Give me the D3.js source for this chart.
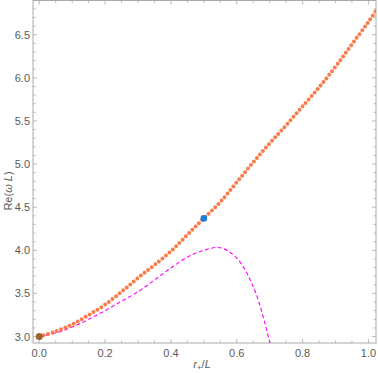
<!DOCTYPE html>
<html>
<head>
<meta charset="utf-8">
<script src="https://cdn.jsdelivr.net/npm/d3@7"></script>
<style>
body { margin: 0; background: #fff; }
text { font-family: "Liberation Sans", Arial, sans-serif; }
</style>
</head>
<body>
<svg id="chart" width="378" height="373"></svg>
<script>
// data
var rx = [0, 0.05, 0.1, 0.15, 0.2, 0.25, 0.3, 0.35, 0.4, 0.45, 0.5, 0.55, 0.6, 0.65, 0.7, 0.75, 0.8, 0.85, 0.9, 0.95, 1.0, 1.03];
var numeric = [3.0, 3.06, 3.14, 3.25, 3.37, 3.52, 3.68, 3.83, 3.99, 4.18, 4.37, 4.56, 4.79, 5.02, 5.24, 5.45, 5.67, 5.89, 6.13, 6.39, 6.65, 6.82];
var sx = [0, 0.05, 0.1, 0.15, 0.2, 0.25, 0.3, 0.35, 0.4, 0.45, 0.5, 0.55, 0.6, 0.65, 0.7, 0.72];
var series = [3.0, 3.04, 3.11, 3.2, 3.3, 3.41, 3.52, 3.655, 3.795, 3.92, 4.0, 4.03, 3.91, 3.58, 2.94, 2.6];
var pointBlue = [0.5, 4.37];
var pointBrown = [0, 3.0];
var xTicks = [0, 0.2, 0.4, 0.6, 0.8, 1.0];
var yTicks = [3.0, 3.5, 4.0, 4.5, 5.0, 5.5, 6.0, 6.5];

var svg = d3.select("#chart");
var padL = 33, padR = 376, padT = 0.5, padB = 343;

var x = d3.scaleLinear().domain([-0.019, 1.023]).range([padL, padR]);
var y = d3.scaleLinear().domain([2.925, 6.897]).range([padB, padT]);

var frameColor = "#aaaaaa";
var labelColor = "#5a5a5a";

svg.append("clipPath").attr("id", "clip")
    .append("rect").attr("x", padL).attr("y", 0)
    .attr("width", padR - padL).attr("height", padB);

// frame
svg.append("rect")
    .attr("x", padL).attr("y", padT)
    .attr("width", padR - padL).attr("height", padB - padT)
    .attr("fill", "none").attr("stroke", frameColor).attr("stroke-width", 1);

var xMinor = d3.range(0, 1.0001, 0.05);
var yMinor = d3.range(3.0, 6.85, 0.1);

var ticks = svg.append("g").attr("stroke", frameColor).attr("stroke-width", 0.8);
xMinor.forEach(function(v){
    var major = Math.abs(v*5 - Math.round(v*5)) < 1e-6;
    var len = major ? 4 : 2.5;
    var px = x(v);
    ticks.append("line").attr("x1", px).attr("x2", px).attr("y1", padB).attr("y2", padB - len);
    ticks.append("line").attr("x1", px).attr("x2", px).attr("y1", padT).attr("y2", padT + len);
});
yMinor.forEach(function(v){
    var major = Math.abs(v*2 - Math.round(v*2)) < 1e-6;
    var len = major ? 4 : 2.5;
    var py = y(v);
    ticks.append("line").attr("x1", padL).attr("x2", padL + len).attr("y1", py).attr("y2", py);
    ticks.append("line").attr("x1", padR).attr("x2", padR - len).attr("y1", py).attr("y2", py);
});

svg.append("g").selectAll("text").data(xTicks).enter().append("text")
    .attr("x", function(d){ return x(d); })
    .attr("y", padB + 14)
    .attr("text-anchor", "middle")
    .attr("font-size", 11)
    .attr("fill", labelColor)
    .text(function(d){ return d.toFixed(1); });

svg.append("g").selectAll("text").data(yTicks).enter().append("text")
    .attr("x", padL - 3)
    .attr("y", function(d){ return y(d) + 4; })
    .attr("text-anchor", "end")
    .attr("font-size", 11)
    .attr("fill", labelColor)
    .text(function(d){ return d.toFixed(1); });

// axis labels
var xl = svg.append("text").attr("x", 202).attr("y", 368)
    .attr("text-anchor", "middle").attr("font-size", 11).attr("fill", labelColor);
xl.append("tspan").attr("font-style", "italic").text("r");
xl.append("tspan").attr("font-size", 8).attr("dy", 2).text("+");
xl.append("tspan").attr("dy", -2).text("/");
xl.append("tspan").attr("font-style", "italic").text("L");

var yl = svg.append("text").attr("transform", "translate(12,191) rotate(-90)")
    .attr("text-anchor", "middle").attr("font-size", 11).attr("fill", labelColor);
yl.append("tspan").text("Re(");
yl.append("tspan").attr("font-style", "italic").text("ω L");
yl.append("tspan").text(")");

var plot = svg.append("g").attr("clip-path", "url(#clip)");

var lineR = d3.line().curve(d3.curveCatmullRom)
    .x(function(d, i){ return x(rx[i]); })
    .y(function(d){ return y(d); });
var lineS = d3.line().curve(d3.curveCatmullRom)
    .x(function(d, i){ return x(sx[i]); })
    .y(function(d){ return y(d); });

plot.append("path").datum(series)
    .attr("d", lineS)
    .attr("fill", "none")
    .attr("stroke", "#ff00ff")
    .attr("stroke-width", 1.1)
    .attr("stroke-dasharray", "4,2.5");

plot.append("path").datum(numeric)
    .attr("d", lineR)
    .attr("fill", "none")
    .attr("stroke", "#f97d4a")
    .attr("stroke-width", 4)
    .attr("stroke-linecap", "round")
    .attr("stroke-dasharray", "0,4.6");

plot.append("circle")
    .attr("cx", x(pointBlue[0])).attr("cy", y(pointBlue[1])).attr("r", 3.3)
    .attr("fill", "#1c7fe0");
plot.append("circle")
    .attr("cx", x(pointBrown[0])).attr("cy", y(pointBrown[1])).attr("r", 3.5)
    .attr("fill", "#9c6333");
</script>
</body>
</html>
